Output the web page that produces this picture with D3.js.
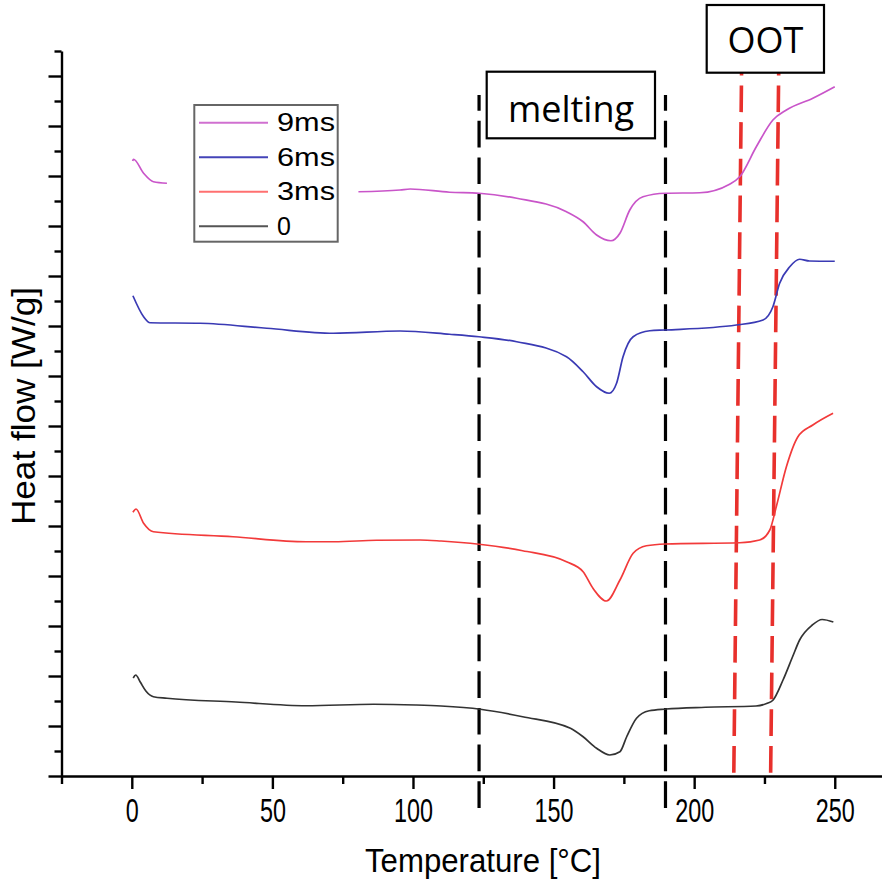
<!DOCTYPE html>
<html>
<head>
<meta charset="utf-8">
<script src="https://cdn.jsdelivr.net/npm/d3@7"></script>
<style>
  body { margin: 0; background: #fff; }
  svg { display: block; }
</style>
</head>
<body>
<div id="chart"></div>
<script>
// Series: temperature (°C) and heat flow (offset, arbitrary units)
const temps0 = [0.5, 1.4, 3, 5, 7.7, 12.5, 37, 62, 86, 101, 110, 124, 139, 156, 160.5, 165.3, 170, 173.6, 176, 179.5, 184, 190, 204, 222, 226, 228, 231.6, 235, 237.5, 242, 245.5, 249.5];
const heat0 = [3.92, 4.04, 3.76, 3.40, 3.17, 3.11, 2.96, 2.81, 2.87, 2.84, 2.80, 2.67, 2.37, 1.91, 1.57, 1.11, 0.84, 0.97, 1.57, 2.31, 2.61, 2.68, 2.75, 2.80, 2.91, 3.03, 3.84, 4.77, 5.44, 6.04, 6.26, 6.16];

const temps3 = [0.4, 1.5, 4.2, 7.7, 36, 62, 72, 87, 102.5, 110, 123.5, 139, 154.6, 160.5, 164, 168.8, 173.6, 178.3, 183, 189.8, 216.2, 223.3, 226.9, 229.2, 232.8, 236.9, 242.2, 249.4];
const heat3 = [10.55, 10.68, 10.11, 9.77, 9.57, 9.37, 9.37, 9.43, 9.44, 9.40, 9.27, 9.01, 8.57, 8.17, 7.51, 7.00, 7.84, 8.91, 9.21, 9.28, 9.33, 9.44, 9.84, 10.77, 12.37, 13.57, 14.04, 14.51];

const temps6 = [0.4, 4.2, 6.5, 24.3, 48, 71.7, 95.4, 113, 123.5, 136.9, 154.6, 160.5, 165.3, 169.8, 172.4, 174.7, 178.3, 184.2, 189.8, 215, 224.5, 228, 230.4, 234, 237.5, 241, 250];
const heat6 = [19.21, 18.37, 18.13, 18.11, 17.91, 17.71, 17.80, 17.67, 17.57, 17.37, 16.77, 16.17, 15.57, 15.31, 15.71, 16.77, 17.57, 17.81, 17.84, 18.04, 18.24, 18.77, 19.71, 20.37, 20.67, 20.60, 20.59];

// the 9ms trace is broken where the legend sits (null = gap)
const temps9 = [0.3, 0.6, 4.2, 7.7, 12.5, 40, 80.6, 95.4, 99, 113, 123.5, 136.9, 154.6, 160.5, 165.3, 170.4, 173.6, 177.1, 181.8, 189.8, 202, 212.6, 216.2, 222.1, 228, 232.8, 242.2, 250];
const heat9 = [24.60, 24.67, 24.11, 23.77, 23.71, null, 23.37, 23.44, 23.48, 23.35, 23.31, 23.11, 22.57, 22.17, 21.64, 21.41, 21.71, 22.64, 23.17, 23.31, 23.33, 23.67, 23.97, 25.17, 26.24, 26.64, 27.11, 27.57];

const seriesNames = ["9ms", "6ms", "3ms", "0"];
const xMajorTicks = [0, 50, 100, 150, 200, 250];
const xMinorTicks = [-25, 25, 75, 125, 175, 225];

// marker lines (°C): melting range and OOT range (the red ones lean slightly)
const meltLines = [123.5, 189.8];
const ootLines = [[216.9, 214.1], [230.1, 227.2]];

const width = 882, height = 886;

const svg = d3.select('#chart').append('svg')
    .attr('width', width)
    .attr('height', height)
    .style('font-family', '"Liberation Sans", Arial, sans-serif');

const x = d3.scaleLinear().domain([-25, 266.8]).range([61.5, 882]);
const y = d3.scaleLinear().domain([0, 29]).range([776, 51]);

// Y axis: major + minor ticks, no labels
const yMajor = d3.range(0, 30).filter(d => d % 2 === 0);
const yMinor = d3.range(0, 30).filter(d => d % 2 === 1);

svg.append('g')
    .attr('transform', `translate(${x(-25)},0)`)
    .call(d3.axisLeft(y).tickValues(yMajor).tickSize(13).tickSizeOuter(0).tickFormat(''))
    .call(g => g.selectAll('path,line').attr('stroke', '#000').attr('stroke-width', 2.4));

svg.append('g')
    .attr('transform', `translate(${x(-25)},0)`)
    .call(d3.axisLeft(y).tickValues(yMinor).tickSize(7).tickFormat(''))
    .call(g => g.select('.domain').remove())
    .call(g => g.selectAll('line').attr('stroke', '#000').attr('stroke-width', 2.4));

// X axis
const xAxisG = svg.append('g')
    .attr('transform', `translate(0,${y(0)})`)
    .call(d3.axisBottom(x).tickValues(xMajorTicks).tickSize(13).tickSizeOuter(0).tickPadding(9))
    .call(g => g.selectAll('path,line').attr('stroke', '#000').attr('stroke-width', 2.4));

xAxisG.selectAll('text')
    .attr('font-size', 34)
    .attr('fill', '#000')
    .attr('font-family', '"Liberation Sans", Arial, sans-serif')
    .attr('textLength', d => String(d).length * 13)
    .attr('lengthAdjust', 'spacingAndGlyphs');

svg.append('g')
    .attr('transform', `translate(0,${y(0)})`)
    .call(d3.axisBottom(x).tickValues(xMinorTicks).tickSize(8).tickFormat(''))
    .call(g => g.select('.domain').remove())
    .call(g => g.selectAll('line').attr('stroke', '#000').attr('stroke-width', 2.4));

// Axis titles
svg.append('text')
    .attr('x', 483)
    .attr('y', 872)
    .attr('text-anchor', 'middle')
    .attr('font-size', 33)
    .attr('textLength', 236)
    .attr('lengthAdjust', 'spacingAndGlyphs')
    .text('Temperature [°C]');

svg.append('text')
    .attr('transform', 'rotate(-90)')
    .attr('x', -406)
    .attr('y', 35)
    .attr('text-anchor', 'middle')
    .attr('font-size', 34)
    .attr('textLength', 238)
    .attr('lengthAdjust', 'spacingAndGlyphs')
    .text('Heat flow [W/g]');

// Melting dashed lines (black), drawn bottom-up so the dash phase starts at the bottom
meltLines.forEach(t => {
    svg.append('line')
        .attr('x1', x(t)).attr('x2', x(t))
        .attr('y1', 808).attr('y2', 95)
        .attr('stroke', '#000')
        .attr('stroke-width', 3.2)
        .attr('stroke-dasharray', '26.7 10');
});

// OOT dashed lines (red)
ootLines.forEach(([top, bottom]) => {
    svg.append('line')
        .attr('x1', x(bottom)).attr('x2', x(top))
        .attr('y1', 772.7).attr('y2', 62)
        .attr('stroke', '#e8302c')
        .attr('stroke-width', 3.6)
        .attr('stroke-dasharray', '26.7 10');
});

// Curves
const line = d3.line()
    .defined(d => d[1] !== null)
    .x(d => x(d[0]))
    .y(d => y(d[1]))
    .curve(d3.curveMonotoneX);

const curves = [
    { t: temps0, v: heat0, color: '#333333' },
    { t: temps3, v: heat3, color: '#f23a3a' },
    { t: temps6, v: heat6, color: '#3a3ab4' },
    { t: temps9, v: heat9, color: '#c955c9' }
];

curves.forEach(c => {
    svg.append('path')
        .datum(c.t.map((t, i) => [t, c.v[i]]))
        .attr('fill', 'none')
        .attr('stroke', c.color)
        .attr('stroke-width', 1.7)
        .attr('d', line);
});

// Legend
const legendColors = ['#d070d0', '#4444b8', '#ff7070', '#555555'];
const legend = svg.append('g');
legend.append('rect')
    .attr('x', 194.3).attr('y', 105)
    .attr('width', 143.4).attr('height', 136.7)
    .attr('fill', '#fff')
    .attr('stroke', '#666')
    .attr('stroke-width', 2);

seriesNames.forEach((name, i) => {
    const ly = 122.7 + i * 34.5;
    legend.append('line')
        .attr('x1', 199).attr('x2', 268)
        .attr('y1', ly).attr('y2', ly)
        .attr('stroke', legendColors[i])
        .attr('stroke-width', 2);
    const txt = legend.append('text')
        .attr('x', 277)
        .attr('y', ly + 8.5)
        .attr('font-size', 25)
        .text(name);
    if (name.length > 1) {
        txt.attr('textLength', 58).attr('lengthAdjust', 'spacingAndGlyphs');
    }
});

// Annotation boxes
const note = (x0, y0, w, h, label, tx, ty) => {
    svg.append('rect')
        .attr('x', x0).attr('y', y0)
        .attr('width', w).attr('height', h)
        .attr('fill', '#fff')
        .attr('stroke', '#000')
        .attr('stroke-width', 2.2);
    svg.append('text')
        .attr('x', tx).attr('y', ty)
        .attr('text-anchor', 'middle')
        .attr('font-family', '"Open Sans", sans-serif')
        .attr('font-size', 36)
        .text(label);
};
note(486.7, 71.7, 168.3, 66.6, 'melting', 571, 121.5);
note(706.7, 5, 117.3, 67.7, 'OOT', 765.5, 53);
</script>
</body>
</html>
